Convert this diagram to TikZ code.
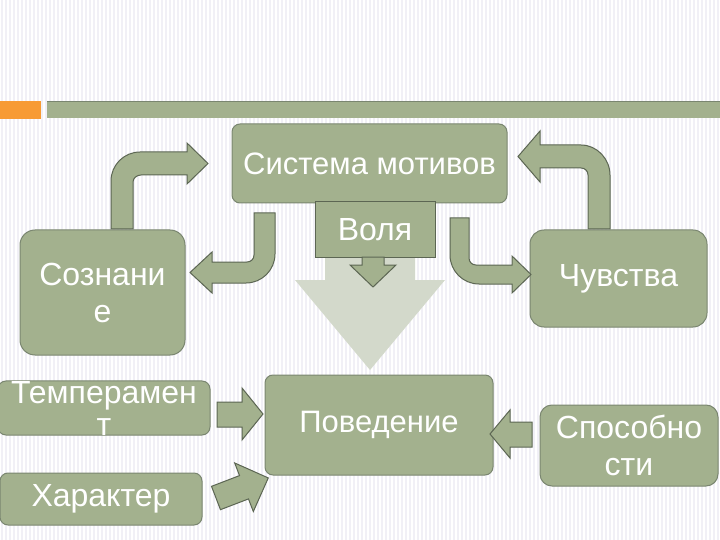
\documentclass[tikz,border=0pt]{standalone}
\usepackage{fontspec}
\setmainfont{Liberation Sans}
\definecolor{sage}{HTML}{A3B18E}
\definecolor{sageline}{HTML}{7A8670}
\definecolor{arrowline}{HTML}{5C6653}
\definecolor{lightsage}{HTML}{D3D9CB}
\definecolor{myorange}{HTML}{F79B34}
\definecolor{stripecol}{HTML}{F1F0F6}
\tikzset{
  box/.style={draw=sageline, line width=1pt, fill=sage, rounded corners=8pt, text=white,
    font=\fontsize{32}{37}\selectfont, align=center, inner sep=0pt},
  blockarrow/.style={draw=arrowline, line width=1pt, fill=sage, line join=miter},
  stripe/.style={draw=stripecol, line width=2pt}
}
\begin{document}
\begin{tikzpicture}[x=1pt,y=-1pt]
\useasboundingbox (0,0) rectangle (720,540);
\fill[white] (0,0) rectangle (720,540);
\foreach \x in {2,6,...,720} \draw[stripe] (\x,0) -- (\x,540);

% title bars
\fill[myorange] (0,101) rectangle (41,119);
\fill[sage] (47,101) rectangle (720,118);
\draw[sageline, line width=1pt] (47,101.5) -- (720,101.5);

% big light arrow
\fill[lightsage] (325,235) -- (415,235) -- (415,280) -- (445,280) -- (370,370) -- (295,280) -- (325,280) -- cycle;

% boxes
\node[box, font=\fontsize{31}{37}\selectfont, minimum width=275pt, minimum height=79pt] (sys) at (369.5,163.5) {Система мотивов};
\node[box, rounded corners=0pt, draw=arrowline, minimum width=120pt, minimum height=55pt] (volya) at (375,229.5) {Воля};
\node[box, rounded corners=15pt, minimum width=165pt, minimum height=125pt] (soz) at (102.5,292.5) {Сознани\\е};
\node[box, rounded corners=14pt, minimum width=177pt, minimum height=97pt] (chuv) at (618.5,278.5) {Чувства};
\node[box, font=\fontsize{32}{32}\selectfont, minimum width=212pt, minimum height=50pt] (temp) at (104,408) {Темперамен\\т};
\node[box, minimum width=202pt, minimum height=52pt] (har) at (101,499) {Характер};
\node[box, font=\fontsize{31}{37}\selectfont, minimum width=228pt, minimum height=100pt] (pov) at (379,425) {Поведение};
\node[box, rounded corners=12pt, minimum width=178pt, minimum height=81pt] (spos) at (629,445.5) {Способно\\сти};

% small arrow from Воля
\draw[blockarrow] (362,257) -- (384,257) -- (384,265) -- (396,265) -- (373,287) -- (350,265) -- (362,265) -- cycle;

% top-left bent arrow (Сознание -> Система мотивов)
\draw[blockarrow] (111,229) -- (111,181) .. controls (111,165) and (124,152) .. (140,152)
  -- (187,152) -- (187,143) -- (208,163.5) -- (187,184) -- (187,175) -- (141,175)
  .. controls (137,175) and (133,178) .. (133,182) -- (133,229) -- cycle;

% top-right bent arrow (Чувства -> Система мотивов)
\draw[blockarrow] (610,229) -- (610,175) .. controls (610,159) and (597,145) .. (581,145)
  -- (540,145) -- (540,131) -- (518,156.5) -- (540,182) -- (540,168) -- (581,168)
  .. controls (585,168) and (588,171) .. (588,175) -- (588,229) -- cycle;

% left-down bent arrow (-> Сознание)
\draw[blockarrow] (275,213) -- (275,254) .. controls (275,270) and (262,283) .. (246,283)
  -- (212,283) -- (212,293) -- (190,272.5) -- (212,252) -- (212,262) -- (247,262)
  .. controls (251,262) and (254,259) .. (254,255) -- (254,213) -- cycle;

% right-down bent arrow (-> Чувства)
\draw[blockarrow] (450,218) -- (450,255) .. controls (450,271) and (463,284) .. (479,284)
  -- (512,284) -- (512,293) -- (531,274.5) -- (512,256) -- (512,265) -- (476,265)
  .. controls (472,265) and (469,262) .. (469,258) -- (469,218) -- cycle;

% Темперамент -> Поведение
\draw[blockarrow] (217,402) -- (242,402) -- (242,388) -- (263,414) -- (242,440) -- (242,427) -- (217,427) -- cycle;

% Способности -> Поведение
\draw[blockarrow] (532,422) -- (510,422) -- (510,410) -- (490,434) -- (510,458) -- (510,447) -- (532,447) -- cycle;

% Характер -> Поведение
\begin{scope}[shift={(216,498)}, rotate=21]
\draw[blockarrow] (0,-12.5) -- (30,-12.5) -- (30,-26) -- (56,0) -- (30,26) -- (30,12.5) -- (0,12.5) -- cycle;
\end{scope}
\end{tikzpicture}
\end{document}
